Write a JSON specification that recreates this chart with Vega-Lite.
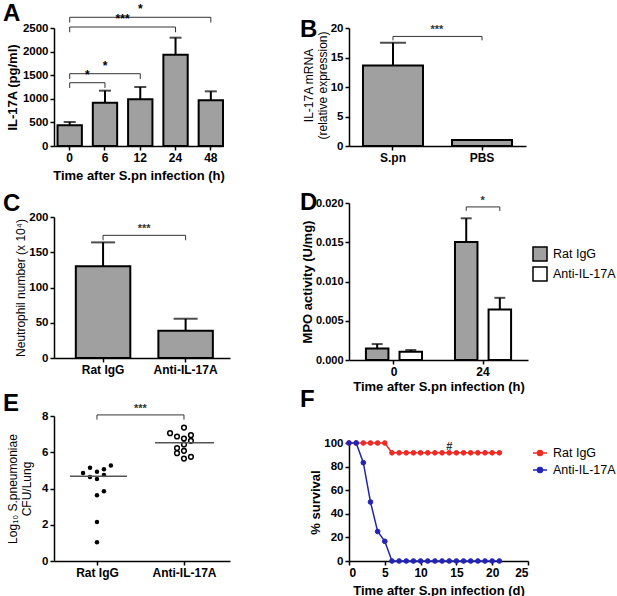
{
  "$schema": "https://vega.github.io/schema/vega-lite/v6.json",
  "background": "white",
  "padding": {"left": 3, "top": 2, "right": 0, "bottom": 0},
  "config": {
    "view": {"stroke": null},
    "font": "Liberation Sans",
    "axis": {"domainColor": "black", "domainWidth": 1.5, "tickColor": "black", "tickWidth": 1.5, "tickSize": 4, "labelColor": "black", "labelFontWeight": "bold", "labelFontSize": 11.5, "labelFont": "Liberation Sans", "titleFont": "Liberation Sans", "titleFontSize": 13, "titleFontWeight": "bold", "titleColor": "black", "grid": false, "labelPadding": 2, "titlePadding": 6, "labelOverlap": false},
    "axisX": {"labelAngle": 0, "labelFontSize": 12},
    "legend": {"labelFont": "Liberation Sans", "labelFontSize": 12.5, "labelColor": "black", "padding": 0},
    "title": {"font": "Liberation Sans", "fontSize": 24, "fontWeight": "bold", "anchor": "start", "frame": "group", "color": "black"}
  },
  "columns": 2,
  "align": "none",
  "spacing": 70,
  "resolve": {"scale": {"color": "independent", "fill": "independent", "stroke": "independent"}, "legend": {"color": "independent", "fill": "independent", "stroke": "independent"}},
  "concat": [
    {
      "spacing": 16,
      "resolve": {"scale": {"color": "independent", "fill": "independent", "stroke": "independent"}, "legend": {"color": "independent", "fill": "independent", "stroke": "independent"}},
      "vconcat": [
        {
          "spacing": 10,
          "resolve": {"scale": {"color": "independent", "fill": "independent", "stroke": "independent"}, "legend": {"color": "independent", "fill": "independent", "stroke": "independent"}},
          "vconcat": [
            {
              "width": 169, "height": 118,
              "title": {"text": "A", "offset": -23, "dx": -51},
              "encoding": {
                "x": {"field": "time", "type": "nominal", "sort": ["0", "6", "12", "24", "48"], "scale": {"paddingInner": 0.31, "paddingOuter": 0.05, "align": 1}, "axis": {"title": "Time after S.pn infection (h)"}},
                "y": {"field": "v", "type": "quantitative", "scale": {"domain": [0, 2500]}, "axis": {"title": "IL-17A (pg/ml)", "titleBaseline": "top", "titleX": -48, "titleY": 59, "values": [0, 500, 1000, 1500, 2000, 2500], "format": "d"}}
              },
              "layer": [
                {
                  "data": {"values": [
                    {"time": "0", "v": 438, "v2": 508},
                    {"time": "6", "v": 918, "v2": 1172},
                    {"time": "12", "v": 989, "v2": 1250},
                    {"time": "24", "v": 1935, "v2": 2295},
                    {"time": "48", "v": 967, "v2": 1158}
                  ]},
                  "layer": [
                    {"mark": {"type": "bar", "fill": "#a0a0a0", "stroke": "black", "strokeWidth": 2}},
                    {"mark": {"type": "rule", "strokeWidth": 2, "color": "black"}, "encoding": {"y2": {"field": "v2"}}}
                  ]
                },
                {
                  "data": {"values": [
                    {"time": "0", "v": 508}, {"time": "6", "v": 1172}, {"time": "12", "v": 1250}, {"time": "24", "v": 2295}, {"time": "48", "v": 1158}
                  ]},
                  "mark": {"type": "tick", "size": 12, "thickness": 2, "color": "black"}
                },
                {
                  "data": {"values": [
                    {"b": 1, "o": 1, "time": "0", "v": 1230}, {"b": 1, "o": 2, "time": "0", "v": 1341}, {"b": 1, "o": 3, "time": "6", "v": 1341}, {"b": 1, "o": 4, "time": "6", "v": 1230},
                    {"b": 2, "o": 1, "time": "0", "v": 1420}, {"b": 2, "o": 2, "time": "0", "v": 1532}, {"b": 2, "o": 3, "time": "12", "v": 1532}, {"b": 2, "o": 4, "time": "12", "v": 1420},
                    {"b": 3, "o": 1, "time": "0", "v": 2410}, {"b": 3, "o": 2, "time": "0", "v": 2521}, {"b": 3, "o": 3, "time": "24", "v": 2521}, {"b": 3, "o": 4, "time": "24", "v": 2410},
                    {"b": 4, "o": 1, "time": "0", "v": 2615}, {"b": 4, "o": 2, "time": "0", "v": 2727}, {"b": 4, "o": 3, "time": "48", "v": 2727}, {"b": 4, "o": 4, "time": "48", "v": 2615}
                  ]},
                  "mark": {"type": "line", "strokeWidth": 1, "color": "#333"},
                  "encoding": {"detail": {"field": "b", "type": "nominal"}, "order": {"field": "o", "type": "quantitative"}}
                },
                {
                  "data": {"values": [
                    {"time": "6", "v": 1532, "label": "*"},
                    {"time": "12", "v": 2727, "label": "*"}
                  ]},
                  "mark": {"type": "text", "baseline": "bottom", "dy": -1, "fontSize": 12, "fontWeight": "bold"},
                  "encoding": {"text": {"field": "label"}}
                },
                {
                  "data": {"values": [
                    {"time": "0", "v": 1341, "label": "*"},
                    {"time": "6", "v": 2521, "label": "***"}
                  ]},
                  "mark": {"type": "text", "baseline": "bottom", "dy": -1, "dx": 17.6, "fontSize": 12, "fontWeight": "bold"},
                  "encoding": {"text": {"field": "label"}}
                }
              ]
            },
            {
              "width": 176, "height": 141,
              "title": {"text": "C", "offset": -5, "dx": -51},
              "encoding": {
                "x": {"field": "g", "type": "nominal", "sort": ["Rat IgG", "Anti-IL-17A"], "scale": {"paddingInner": 0.34, "paddingOuter": 0.236, "align": 0.56}, "axis": {"title": null}},
                "y": {"field": "v", "type": "quantitative", "scale": {"domain": [0, 200]}, "axis": {"title": "Neutrophil number (x 10⁴)", "titleFontWeight": "normal", "titleFontSize": 12, "titleBaseline": "top", "titleX": -39, "titleY": 70.5, "values": [0, 50, 100, 150, 200]}}
              },
              "layer": [
                {
                  "data": {"values": [
                    {"g": "Rat IgG", "v": 130, "v2": 164},
                    {"g": "Anti-IL-17A", "v": 38.7, "v2": 55.7}
                  ]},
                  "layer": [
                    {"mark": {"type": "bar", "fill": "#a0a0a0", "stroke": "black", "strokeWidth": 2}},
                    {"mark": {"type": "rule", "strokeWidth": 2, "color": "black"}, "encoding": {"y2": {"field": "v2"}}}
                  ]
                },
                {
                  "data": {"values": [{"g": "Rat IgG", "v": 164}, {"g": "Anti-IL-17A", "v": 55.7}]},
                  "mark": {"type": "tick", "size": 24, "thickness": 2, "color": "black"}
                },
                {
                  "data": {"values": [
                    {"o": 1, "g": "Rat IgG", "v": 167}, {"o": 2, "g": "Rat IgG", "v": 174}, {"o": 3, "g": "Anti-IL-17A", "v": 174}, {"o": 4, "g": "Anti-IL-17A", "v": 167}
                  ]},
                  "mark": {"type": "line", "strokeWidth": 1, "color": "#333"},
                  "encoding": {"order": {"field": "o", "type": "quantitative"}}
                },
                {
                  "data": {"values": [{"g": "Rat IgG", "v": 174, "label": "***"}]},
                  "mark": {"type": "text", "baseline": "bottom", "dy": -1, "dx": 41, "fontSize": 11, "fontWeight": "bold", "color": "#333"},
                  "encoding": {"text": {"field": "label"}}
                }
              ]
            }
          ]
        },
        {
          "width": 176, "height": 145,
          "title": {"text": "E", "offset": -13, "dx": -51},
          "encoding": {
            "x": {"field": "pos", "type": "quantitative", "scale": {"domain": [0.506, 2.529], "nice": false, "zero": false}, "axis": {"title": null, "values": [1, 2], "labelExpr": "datum.value == 1 ? 'Rat IgG' : 'Anti-IL-17A'"}},
            "y": {"field": "v", "type": "quantitative", "scale": {"domain": [0, 8]}, "axis": {"title": ["Log₁₀ S.pneumoniae", "CFU/Lung"], "titleFontWeight": "normal", "titleFontSize": 12, "titleBaseline": "top", "titleX": -47, "titleY": 72.5, "values": [0, 2, 4, 6, 8]}}
          },
          "layer": [
            {
              "data": {"values": [
                {"grp": "Rat IgG", "pos": 0.84, "v": 4.86},
                {"grp": "Rat IgG", "pos": 0.92, "v": 5.14},
                {"grp": "Rat IgG", "pos": 1.0, "v": 4.93},
                {"grp": "Rat IgG", "pos": 1.08, "v": 5.06},
                {"grp": "Rat IgG", "pos": 1.16, "v": 5.27},
                {"grp": "Rat IgG", "pos": 0.92, "v": 4.64},
                {"grp": "Rat IgG", "pos": 1.0, "v": 4.53},
                {"grp": "Rat IgG", "pos": 1.08, "v": 4.75},
                {"grp": "Rat IgG", "pos": 1.0, "v": 3.63},
                {"grp": "Rat IgG", "pos": 1.08, "v": 3.85},
                {"grp": "Rat IgG", "pos": 1.0, "v": 2.15},
                {"grp": "Rat IgG", "pos": 1.0, "v": 1.03}
              ]},
              "mark": {"type": "circle", "color": "black", "size": 20, "opacity": 1}
            },
            {
              "data": {"values": [
                {"grp": "Anti-IL-17A", "pos": 2.0, "v": 7.36},
                {"grp": "Anti-IL-17A", "pos": 1.84, "v": 7.05},
                {"grp": "Anti-IL-17A", "pos": 1.92, "v": 6.87},
                {"grp": "Anti-IL-17A", "pos": 2.0, "v": 6.76},
                {"grp": "Anti-IL-17A", "pos": 2.08, "v": 6.94},
                {"grp": "Anti-IL-17A", "pos": 2.08, "v": 6.63},
                {"grp": "Anti-IL-17A", "pos": 2.0, "v": 6.43},
                {"grp": "Anti-IL-17A", "pos": 1.92, "v": 6.23},
                {"grp": "Anti-IL-17A", "pos": 2.0, "v": 6.08},
                {"grp": "Anti-IL-17A", "pos": 1.92, "v": 5.95},
                {"grp": "Anti-IL-17A", "pos": 2.0, "v": 5.65},
                {"grp": "Anti-IL-17A", "pos": 2.08, "v": 5.75}
              ]},
              "mark": {"type": "point", "shape": "circle", "color": "black", "size": 22, "strokeWidth": 1.5, "filled": false, "opacity": 1}
            },
            {
              "data": {"values": [
                {"grp": "Rat IgG", "v": 4.68, "pos": 0.69, "pos2": 1.345},
                {"grp": "Anti-IL-17A", "v": 6.52, "pos": 1.667, "pos2": 2.345}
              ]},
              "mark": {"type": "rule", "color": "#555", "strokeWidth": 1.5},
              "encoding": {"x2": {"field": "pos2"}}
            },
            {
              "data": {"values": [
                {"o": 1, "pos": 1, "v": 7.8}, {"o": 2, "pos": 1, "v": 8.06}, {"o": 3, "pos": 2, "v": 8.06}, {"o": 4, "pos": 2, "v": 7.8}
              ]},
              "mark": {"type": "line", "strokeWidth": 1, "color": "#333"},
              "encoding": {"order": {"field": "o", "type": "quantitative"}}
            },
            {
              "data": {"values": [{"pos": 1.5, "v": 8.06, "label": "***"}]},
              "mark": {"type": "text", "baseline": "bottom", "dy": -1, "fontSize": 11, "fontWeight": "bold", "color": "#333"},
              "encoding": {"text": {"field": "label"}}
            }
          ]
        }
      ]
    },
    {
      "spacing": -5,
      "resolve": {"scale": {"color": "independent", "fill": "independent", "stroke": "independent"}, "legend": {"color": "independent", "fill": "independent", "stroke": "independent"}},
      "vconcat": [
        {
          "spacing": 27,
          "resolve": {"scale": {"color": "independent", "fill": "independent", "stroke": "independent"}, "legend": {"color": "independent", "fill": "independent", "stroke": "independent"}},
          "vconcat": [
            {
              "width": 177, "height": 118,
              "title": {"text": "B", "offset": -20, "dx": -49},
              "encoding": {
                "x": {"field": "g", "type": "nominal", "sort": ["S.pn", "PBS"], "scale": {"paddingInner": 0.326, "paddingOuter": 0.157}, "axis": {"title": null}},
                "y": {"field": "v", "type": "quantitative", "scale": {"domain": [0, 20]}, "axis": {"title": ["IL-17A mRNA", "(relative expression)"], "titleFontWeight": "normal", "titleFontSize": 12, "titleBaseline": "top", "titleX": -46, "titleY": 57, "values": [0, 5, 10, 15, 20]}}
              },
              "layer": [
                {
                  "data": {"values": [
                    {"g": "S.pn", "v": 13.65, "v2": 17.5},
                    {"g": "PBS", "v": 1.0, "v2": 1.0}
                  ]},
                  "layer": [
                    {"mark": {"type": "bar", "fill": "#a0a0a0", "stroke": "black", "strokeWidth": 2}},
                    {"mark": {"type": "rule", "strokeWidth": 2, "color": "black"}, "encoding": {"y2": {"field": "v2"}}}
                  ]
                },
                {
                  "data": {"values": [{"g": "S.pn", "v": 17.5}]},
                  "mark": {"type": "tick", "size": 26, "thickness": 2, "color": "black"}
                },
                {
                  "data": {"values": [
                    {"o": 1, "g": "S.pn", "v": 17.9}, {"o": 2, "g": "S.pn", "v": 18.57}, {"o": 3, "g": "PBS", "v": 18.57}, {"o": 4, "g": "PBS", "v": 17.9}
                  ]},
                  "mark": {"type": "line", "strokeWidth": 1, "color": "#333"},
                  "encoding": {"order": {"field": "o", "type": "quantitative"}}
                },
                {
                  "data": {"values": [{"g": "S.pn", "v": 18.57, "label": "***"}]},
                  "mark": {"type": "text", "baseline": "bottom", "dy": -1, "dx": 44, "fontSize": 11, "fontWeight": "bold", "color": "#333"},
                  "encoding": {"text": {"field": "label"}}
                }
              ]
            },
            {
              "width": 179, "height": 157,
              "title": {"text": "D", "offset": -20, "dx": -49},
              "encoding": {
                "x": {"field": "t", "type": "nominal", "sort": ["0", "24"], "scale": {"paddingInner": 0.37, "paddingOuter": 0.19}, "axis": {"title": "Time after S.pn infection (h)", "titlePadding": 3}},
                "xOffset": {"field": "grp", "type": "nominal", "sort": ["Rat IgG", "Anti-IL-17A"], "scale": {"domain": ["Rat IgG", "Anti-IL-17A"], "paddingInner": 0.33, "paddingOuter": 0}},
                "y": {"field": "v", "type": "quantitative", "scale": {"domain": [0, 0.02]}, "axis": {"title": "MPO activity (U/mg)", "titleFontSize": 13, "labelFontSize": 11, "titleBaseline": "top", "titleX": -48, "titleY": 78.5, "values": [0, 0.005, 0.01, 0.015, 0.02], "format": ".3f"}}
              },
              "layer": [
                {
                  "data": {"values": [
                    {"t": "0", "grp": "Rat IgG", "v": 0.00148, "v2": 0.00203},
                    {"t": "0", "grp": "Anti-IL-17A", "v": 0.00106, "v2": 0.00127},
                    {"t": "24", "grp": "Rat IgG", "v": 0.01504, "v2": 0.01805},
                    {"t": "24", "grp": "Anti-IL-17A", "v": 0.00644, "v2": 0.00792}
                  ]},
                  "layer": [
                    {"mark": {"type": "bar", "stroke": "black", "strokeWidth": 2}, "encoding": {
                      "fill": {"field": "grp", "type": "nominal", "scale": {"domain": ["Rat IgG", "Anti-IL-17A"], "range": ["#a0a0a0", "#ffffff"]}, "legend": {"title": null, "orient": "none", "legendX": 183, "legendY": 43, "symbolType": "square", "symbolSize": 196, "symbolStrokeColor": "black", "symbolStrokeWidth": 1.5, "symbolOpacity": 1, "rowPadding": 0, "labelOffset": 5}}
                    }},
                    {"mark": {"type": "rule", "strokeWidth": 2, "color": "black"}, "encoding": {"y2": {"field": "v2"}}}
                  ]
                },
                {
                  "data": {"values": [
                    {"t": "0", "grp": "Rat IgG", "v": 0.00203},
                    {"t": "0", "grp": "Anti-IL-17A", "v": 0.00127},
                    {"t": "24", "grp": "Rat IgG", "v": 0.01805},
                    {"t": "24", "grp": "Anti-IL-17A", "v": 0.00792}
                  ]},
                  "mark": {"type": "tick", "size": 11, "thickness": 2, "color": "black"}
                },
                {
                  "data": {"values": [
                    {"o": 1, "t": "24", "grp": "Rat IgG", "v": 0.019}, {"o": 2, "t": "24", "grp": "Rat IgG", "v": 0.0195}, {"o": 3, "t": "24", "grp": "Anti-IL-17A", "v": 0.0195}, {"o": 4, "t": "24", "grp": "Anti-IL-17A", "v": 0.019}
                  ]},
                  "mark": {"type": "line", "strokeWidth": 1, "color": "#333"},
                  "encoding": {"order": {"field": "o", "type": "quantitative"}}
                },
                {
                  "data": {"values": [{"t": "24", "grp": "Rat IgG", "v": 0.0195, "label": "*"}]},
                  "mark": {"type": "text", "baseline": "bottom", "dy": -1, "dx": 16.5, "fontSize": 11, "fontWeight": "bold", "color": "#333"},
                  "encoding": {"text": {"field": "label"}}
                }
              ]
            }
          ]
        },
        {
          "width": 179, "height": 118,
          "title": {"text": "F", "offset": 25, "dx": -49},
          "data": {"name": "surv"},
          "encoding": {
            "x": {"field": "day", "type": "quantitative", "scale": {"domain": [0, 25], "nice": false}, "axis": {"title": "Time after S.pn infection (d)", "values": [0, 5, 10, 15, 20, 25]}},
            "y": {"field": "pct", "type": "quantitative", "scale": {"domain": [0, 100]}, "axis": {"title": "% survival", "titleBaseline": "top", "titleX": -40, "titleY": 59, "values": [0, 20, 40, 60, 80, 100]}}
          },
          "layer": [
            {
              "mark": {"type": "line", "strokeWidth": 1.5},
              "encoding": {
                "color": {"field": "grp", "type": "nominal", "sort": null, "scale": {"domain": ["Rat IgG", "Anti-IL-17A"], "range": ["#ee2a24", "#2424b4"]}, "legend": {"title": null, "orient": "none", "legendX": 183, "legendY": 2, "symbolType": "M-1,0L1,0M-0.36,0A0.36,0.36,0,1,1,0.36,0A0.36,0.36,0,1,1,-0.36,0Z", "symbolSize": 196, "symbolStrokeWidth": 1.5, "rowPadding": 2, "labelOffset": 5}}
              }
            },
            {
              "mark": {"type": "point", "shape": "circle", "size": 22, "filled": true, "opacity": 1, "strokeWidth": 1},
              "encoding": {
                "fill": {"field": "grp", "type": "nominal", "sort": null, "scale": {"domain": ["Rat IgG", "Anti-IL-17A"], "range": ["#ee2a24", "#2424b4"]}, "legend": {"title": null, "orient": "none", "legendX": 183, "legendY": 2, "symbolType": "M-1,0L1,0M-0.36,0A0.36,0.36,0,1,1,0.36,0A0.36,0.36,0,1,1,-0.36,0Z", "symbolSize": 196, "symbolStrokeWidth": 1.5, "rowPadding": 2, "labelOffset": 5}},
                "stroke": {"field": "grp", "type": "nominal", "sort": null, "scale": {"domain": ["Rat IgG", "Anti-IL-17A"], "range": ["#ee2a24", "#2424b4"]}, "legend": {"title": null, "orient": "none", "legendX": 183, "legendY": 2, "symbolType": "M-1,0L1,0M-0.36,0A0.36,0.36,0,1,1,0.36,0A0.36,0.36,0,1,1,-0.36,0Z", "symbolSize": 196, "symbolStrokeWidth": 1.5, "rowPadding": 2, "labelOffset": 5}}
              }
            },
            {
              "data": {"values": [{"day": 14, "pct": 97, "label": "#"}]},
              "mark": {"type": "text", "fontSize": 11, "fontWeight": "bold", "color": "#333", "baseline": "middle"},
              "encoding": {"text": {"field": "label"}}
            }
          ]
        }
      ]
    }
  ],
  "datasets": {
    "surv": [
      {"grp": "Rat IgG", "day": 0, "pct": 100}, {"grp": "Rat IgG", "day": 1, "pct": 100}, {"grp": "Rat IgG", "day": 2, "pct": 100}, {"grp": "Rat IgG", "day": 3, "pct": 100}, {"grp": "Rat IgG", "day": 4, "pct": 100}, {"grp": "Rat IgG", "day": 5, "pct": 100},
      {"grp": "Rat IgG", "day": 6, "pct": 91.7}, {"grp": "Rat IgG", "day": 7, "pct": 91.7}, {"grp": "Rat IgG", "day": 8, "pct": 91.7}, {"grp": "Rat IgG", "day": 9, "pct": 91.7}, {"grp": "Rat IgG", "day": 10, "pct": 91.7}, {"grp": "Rat IgG", "day": 11, "pct": 91.7},
      {"grp": "Rat IgG", "day": 12, "pct": 91.7}, {"grp": "Rat IgG", "day": 13, "pct": 91.7}, {"grp": "Rat IgG", "day": 14, "pct": 91.7}, {"grp": "Rat IgG", "day": 15, "pct": 91.7}, {"grp": "Rat IgG", "day": 16, "pct": 91.7}, {"grp": "Rat IgG", "day": 17, "pct": 91.7},
      {"grp": "Rat IgG", "day": 18, "pct": 91.7}, {"grp": "Rat IgG", "day": 19, "pct": 91.7}, {"grp": "Rat IgG", "day": 20, "pct": 91.7}, {"grp": "Rat IgG", "day": 21, "pct": 91.7},
      {"grp": "Anti-IL-17A", "day": 0, "pct": 100}, {"grp": "Anti-IL-17A", "day": 1, "pct": 100}, {"grp": "Anti-IL-17A", "day": 2, "pct": 83.3}, {"grp": "Anti-IL-17A", "day": 3, "pct": 50}, {"grp": "Anti-IL-17A", "day": 4, "pct": 25}, {"grp": "Anti-IL-17A", "day": 5, "pct": 16.7},
      {"grp": "Anti-IL-17A", "day": 6, "pct": 0}, {"grp": "Anti-IL-17A", "day": 7, "pct": 0}, {"grp": "Anti-IL-17A", "day": 8, "pct": 0}, {"grp": "Anti-IL-17A", "day": 9, "pct": 0}, {"grp": "Anti-IL-17A", "day": 10, "pct": 0}, {"grp": "Anti-IL-17A", "day": 11, "pct": 0},
      {"grp": "Anti-IL-17A", "day": 12, "pct": 0}, {"grp": "Anti-IL-17A", "day": 13, "pct": 0}, {"grp": "Anti-IL-17A", "day": 14, "pct": 0}, {"grp": "Anti-IL-17A", "day": 15, "pct": 0}, {"grp": "Anti-IL-17A", "day": 16, "pct": 0}, {"grp": "Anti-IL-17A", "day": 17, "pct": 0},
      {"grp": "Anti-IL-17A", "day": 18, "pct": 0}, {"grp": "Anti-IL-17A", "day": 19, "pct": 0}, {"grp": "Anti-IL-17A", "day": 20, "pct": 0}, {"grp": "Anti-IL-17A", "day": 21, "pct": 0}
    ]
  }
}
